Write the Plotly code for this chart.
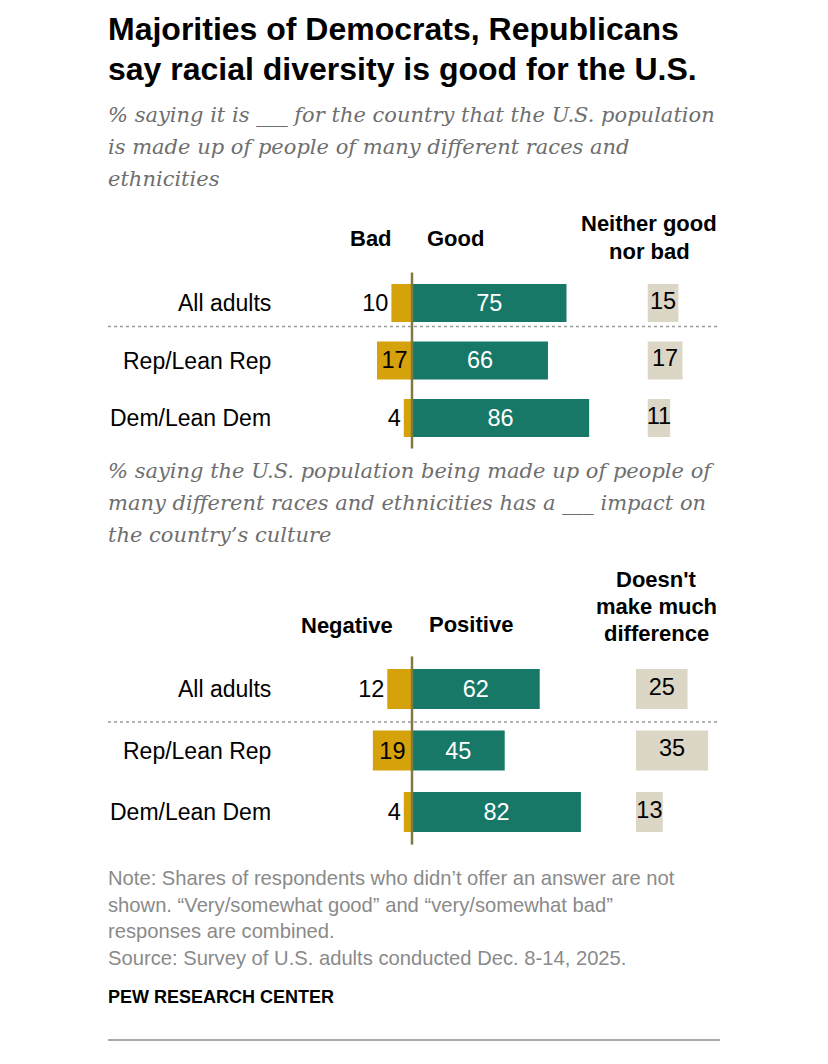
import plotly.graph_objects as go

# ---------------- data ----------------
rows = ["All adults", "Rep/Lean Rep", "Dem/Lean Dem"]

q1_bad = [10, 17, 4]
q1_good = [75, 66, 86]
q1_neither = [15, 17, 11]

q2_negative = [12, 19, 4]
q2_positive = [62, 45, 82]
q2_nodiff = [25, 35, 13]

title_lines = ["Majorities of Democrats, Republicans",
               "say racial diversity is good for the U.S."]
sub1_lines = ["% saying it is ___ for the country that the U.S. population",
              "is made up of people of many different races and",
              "ethnicities"]
sub2_lines = ["% saying the U.S. population being made up of people of",
              "many different races and ethnicities has a ___ impact on",
              "the country’s culture"]
note_lines = ["Note: Shares of respondents who didn’t offer an answer are not",
              "shown. “Very/somewhat good” and “very/somewhat bad”",
              "responses are combined.",
              "Source: Survey of U.S. adults conducted Dec. 8-14, 2025."]
brand = "PEW RESEARCH CENTER"

# ---------------- styling ----------------
W, H = 828, 1064
OFF = 8           # page margin around the plot
C_BAD = "#D6A20B"
C_GOOD = "#177868"
C_NEU = "#DCD6C6"
C_ZERO = "#7E7A40"
SANS = "Liberation Sans, Arial, sans-serif"
SERIF = "DejaVu Serif, Georgia, serif"
S = 2.06          # px per percentage point
ZERO_PX = 412
NUM_SIZE = 23.5
LAB_SIZE = 23


def X(px):
    return (px - OFF) / W


def Y(py):
    return 1 - (py - OFF) / H


fig = go.Figure()


def panel(bad, good, neu, xa, xn, ya, bw):
    xa_ref = "x" if xa == 1 else f"x{xa}"
    xn_ref = f"x{xn}"
    ya_ref = "y" if ya == 1 else f"y{ya}"
    pos_text = ["inside" if v >= 15 else "outside" for v in bad]
    fig.add_trace(go.Bar(
        y=rows, x=[-v for v in bad], orientation="h", width=bw,
        marker=dict(color=C_BAD, line=dict(width=0)),
        text=[str(v) for v in bad], textposition=pos_text,
        insidetextanchor="middle",
        textfont=dict(family=SANS, size=NUM_SIZE, color="black"),
        cliponaxis=False, xaxis=xa_ref, yaxis=ya_ref, hoverinfo="skip"))
    fig.add_trace(go.Bar(
        y=rows, x=good, orientation="h", width=bw,
        marker=dict(color=C_GOOD, line=dict(width=0)),
        text=[str(v) for v in good], textposition="inside",
        insidetextanchor="middle",
        textfont=dict(family=SANS, size=NUM_SIZE, color="white"),
        cliponaxis=False, xaxis=xa_ref, yaxis=ya_ref, hoverinfo="skip"))
    fig.add_trace(go.Bar(
        y=rows, x=neu, orientation="h", width=bw,
        marker=dict(color=C_NEU, line=dict(width=0)),
        textposition="none",
        cliponaxis=False, xaxis=xn_ref, yaxis=ya_ref, hoverinfo="skip"))
    fig.add_trace(go.Scatter(
        y=rows, x=[v / 2 for v in neu], mode="text",
        text=[str(v) for v in neu], textposition="middle center",
        textfont=dict(family=SANS, size=NUM_SIZE, color="black"),
        cliponaxis=False, xaxis=xn_ref, yaxis=ya_ref, hoverinfo="skip",
        showlegend=False))
    # row labels
    for r in rows:
        fig.add_annotation(x=X(273), xref="paper", y=r, yref=ya_ref,
                           text=r, showarrow=False, xanchor="right",
                           yanchor="middle",
                           font=dict(family=SANS, size=LAB_SIZE, color="black"))
    # zero line
    fig.add_shape(type="line", xref=xa_ref, yref=f"{ya_ref} domain",
                  x0=0, x1=0, y0=-0.01, y1=1.01,
                  line=dict(color=C_ZERO, width=2.5))


panel(q1_bad, q1_good, q1_neither, 1, 2, 1, 0.66)
panel(q2_negative, q2_positive, q2_nodiff, 3, 4, 2, 0.65)

axis_off = dict(showgrid=False, zeroline=False, showticklabels=False,
                showline=False, ticks="", fixedrange=True)

main_l, main_r = 290, 625
fig.update_layout(
    xaxis=dict(domain=[X(main_l), X(main_r)],
               range=[(main_l - ZERO_PX) / S, (main_r - ZERO_PX) / S],
               anchor="y", **axis_off),
    xaxis2=dict(domain=[X(647.5), X(722)], range=[0, (722 - 647.5) / S],
                anchor="y", **axis_off),
    xaxis3=dict(domain=[X(main_l), X(main_r)],
                range=[(main_l - ZERO_PX) / S, (main_r - ZERO_PX) / S],
                anchor="y2", **axis_off),
    xaxis4=dict(domain=[X(636), X(722)], range=[0, (722 - 636) / S],
                anchor="y2", **axis_off),
    yaxis=dict(domain=[Y(446.75), Y(274.25)], range=[2.5, -0.5],
               type="category", categoryorder="array", categoryarray=rows,
               anchor="x", **axis_off),
    yaxis2=dict(domain=[Y(842.75), Y(658.25)], range=[2.5, -0.5],
                type="category", categoryorder="array", categoryarray=rows,
                anchor="x3", **axis_off),
    barmode="relative",
    showlegend=False,
    width=W, height=H,
    margin=dict(l=0, r=0, t=0, b=0),
    paper_bgcolor="white", plot_bgcolor="rgba(0,0,0,0)",
)


def text(px, py, s, size, color="black", family=SANS, anchor="left",
         bold=False, italic=False):
    if bold:
        s = f"<b>{s}</b>"
    if italic:
        s = f"<i>{s}</i>"
    fig.add_annotation(x=X(px), y=Y(py), xref="paper", yref="paper",
                       text=s, showarrow=False, xanchor=anchor,
                       yanchor="middle",
                       font=dict(family=family, size=size, color=color))


# title
for i, t in enumerate(title_lines):
    text(106, 29 + 40 * i, t, 32, bold=True)
# subtitles
for i, t in enumerate(sub1_lines):
    text(106, 115 + 32 * i, t, 21, color="#6e6e6e", family=SERIF, italic=True)
for i, t in enumerate(sub2_lines):
    text(106, 471 + 32 * i, t, 21, color="#6e6e6e", family=SERIF, italic=True)

# column headers
text(394, 239, "Bad", 22, anchor="right", bold=True)
text(425, 239, "Good", 22, bold=True)
text(649, 224, "Neither good", 22, anchor="center", bold=True)
text(649, 251, "nor bad", 22, anchor="center", bold=True)
text(395, 625, "Negative", 22, anchor="right", bold=True)
text(427, 624, "Positive", 22, bold=True)
text(656, 579, "Doesn't", 22, anchor="center", bold=True)
text(656, 606, "make much", 22, anchor="center", bold=True)
text(656, 633, "difference", 22, anchor="center", bold=True)

# notes
for i, t in enumerate(note_lines):
    text(106, 878 + 26.7 * i, t, 20.2, color="#8a8a8a")
text(106, 997, brand, 18, bold=True)

# dotted separators & bottom rule
for py in (326.5, 722):
    fig.add_shape(type="line", xref="paper", yref="paper",
                  x0=X(108), x1=X(720), y0=Y(py), y1=Y(py),
                  line=dict(color="#9a9a9a", width=1.5, dash="dot"))
fig.add_shape(type="line", xref="paper", yref="paper",
              x0=X(108), x1=X(720), y0=Y(1040), y1=Y(1040),
              line=dict(color="#8c8c8c", width=1.5))

fig.write_html("out.html")
